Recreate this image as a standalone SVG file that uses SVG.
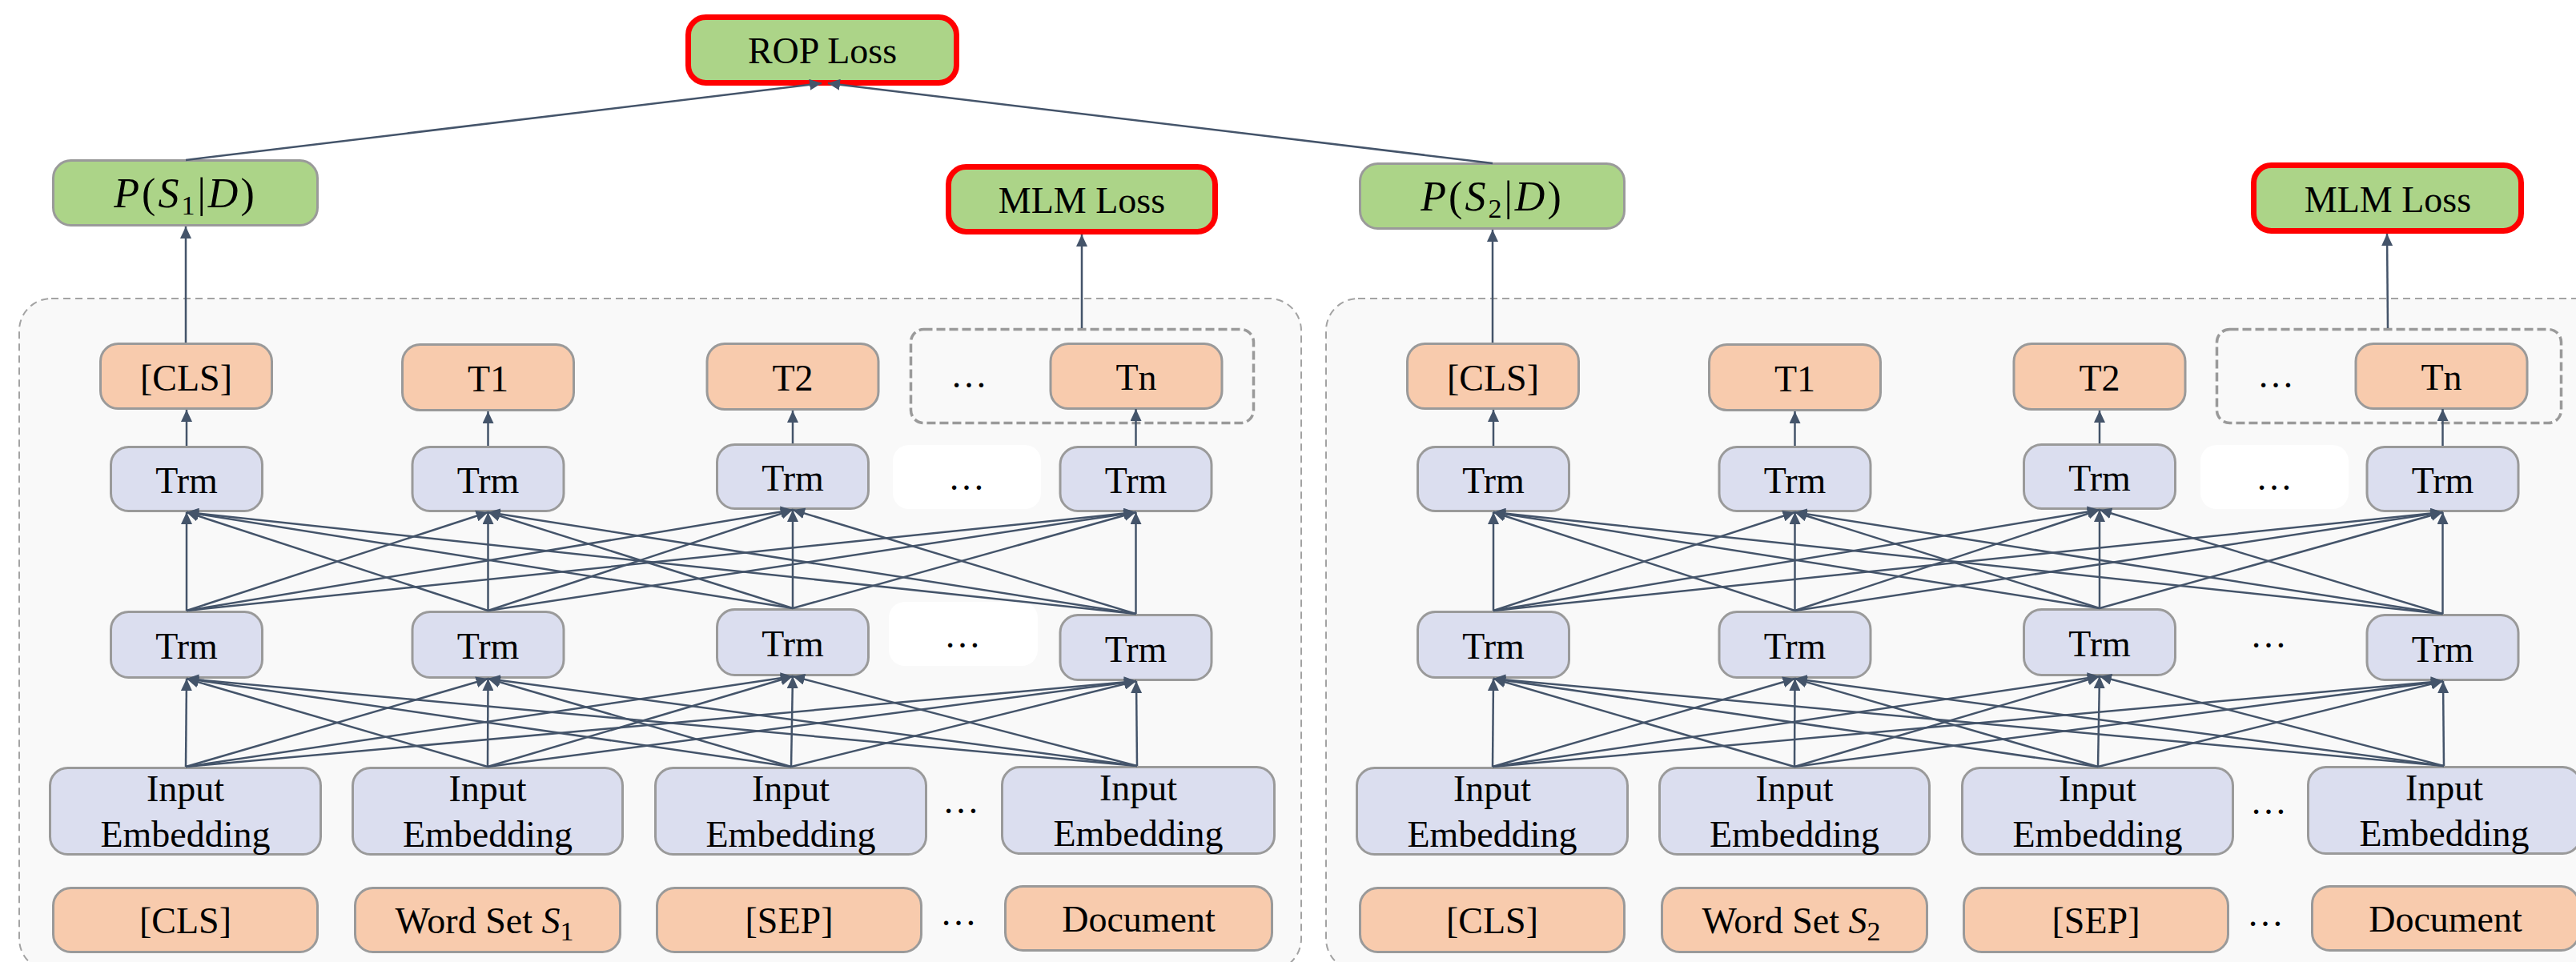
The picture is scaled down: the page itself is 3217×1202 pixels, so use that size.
<svg xmlns="http://www.w3.org/2000/svg" width="3217" height="1202" viewBox="0 0 3217 1202">
  <style>
    .frame { fill: #f9f9f9; stroke: #a3a3a3; stroke-width: 2; stroke-dasharray: 9 6; }
    .group { fill: none; stroke: #9a9a9a; stroke-width: 3.5; stroke-dasharray: 11 5; }
    .gap { fill: #ffffff; stroke: none; }
    .loss { fill: #acd488; stroke: #ff0000; stroke-width: 7; }
    .prob { fill: #acd488; stroke: #9a9a9a; stroke-width: 3; }
    .tok { fill: #f8cbad; stroke: #9a9a9a; stroke-width: 3; }
    .enc { fill: #dbdeef; stroke: #9a9a9a; stroke-width: 3; }
    .t { font-family: "Liberation Serif", "Times New Roman", serif; font-size: 46px; text-anchor: middle; fill: #000; }
    .m { font-size: 52px; letter-spacing: 3px; }
    .i { font-style: italic; }
    .sub { font-size: 34px; }
    .c line { stroke: #44546a; stroke-width: 2.5; marker-end: url(#ah); }
  </style>
  <defs>
    <marker id="ah" markerUnits="userSpaceOnUse" markerWidth="16" markerHeight="14" refX="15" refY="7" orient="auto">
      <path d="M0,0 L15,7 L0,14 Z" fill="#44546a"/>
    </marker>
  </defs>

  <!-- dashed frames of the two encoders -->
  <g id="frames">
    <rect id="frame-1" class="frame" x="24" y="373" width="1601" height="840" rx="40"/>
    <rect id="frame-2" class="frame" x="1656" y="373" width="1601" height="840" rx="40"/>
  </g>

  <!-- ROP loss on top -->
  <g id="rop-loss">
    <rect class="loss" x="859.5" y="21.5" width="335" height="82" rx="22"/>
    <text class="t" x="1027" y="79">ROP Loss</text>
  </g>

  <!-- encoder 1 -->
  <g id="encoder-1">
    <g id="p1">
      <rect class="prob" x="66.5" y="200.5" width="330" height="81" rx="22"/>
      <text class="t m" x="231.5" y="259"><tspan class="i">P</tspan>(<tspan class="i">S</tspan><tspan class="sub" dy="9">1</tspan><tspan dy="-9">|</tspan><tspan class="i">D</tspan>)</text>
    </g>
    <g id="mlm-1">
      <rect class="loss" x="1184.5" y="208.5" width="333" height="81" rx="22"/>
      <text class="t" x="1351" y="266">MLM Loss</text>
    </g>

    <g id="out-group-1"><rect class="group" x="1137.5" y="411.5" width="428" height="117" rx="16"/>
      <text class="t" x="1210" y="484">…</text></g>
    <g id="out-cls-1"><rect class="tok" x="125.5" y="429.5" width="214" height="81" rx="22"/><text class="t" x="232.5" y="488">[CLS]</text></g>
    <g id="out-t1-1"><rect class="tok" x="502.5" y="430.5" width="214" height="82" rx="22"/><text class="t" x="609.5" y="489">T1</text></g>
    <g id="out-t2-1"><rect class="tok" x="883" y="429.5" width="214" height="82" rx="22"/><text class="t" x="990" y="488">T2</text></g>
    <g id="out-tn-1"><rect class="tok" x="1312" y="429.5" width="214" height="81" rx="22"/><text class="t" x="1419" y="487">Tn</text></g>

    <g id="trm2-gap-1"><rect class="gap" x="1115" y="556" width="185" height="80" rx="20"/><text class="t" x="1207" y="612">…</text></g>
    <g id="trm2-a-1"><rect class="enc" x="138.5" y="558.5" width="189" height="80" rx="22"/><text class="t" x="233" y="616">Trm</text></g>
    <g id="trm2-b-1"><rect class="enc" x="515" y="558.5" width="189" height="80" rx="22"/><text class="t" x="609.5" y="616">Trm</text></g>
    <g id="trm2-c-1"><rect class="enc" x="895.5" y="555.5" width="189" height="80" rx="22"/><text class="t" x="990" y="613">Trm</text></g>
    <g id="trm2-d-1"><rect class="enc" x="1324" y="558.5" width="189" height="80" rx="22"/><text class="t" x="1418.5" y="616">Trm</text></g>

    <g id="trm1-gap-1"><rect class="gap" x="1110" y="752" width="186" height="80" rx="20"/><text class="t" x="1202" y="809">…</text></g>
    <g id="trm1-a-1"><rect class="enc" x="138.5" y="764.5" width="189" height="82" rx="22"/><text class="t" x="233" y="823">Trm</text></g>
    <g id="trm1-b-1"><rect class="enc" x="515" y="764.5" width="189" height="82" rx="22"/><text class="t" x="609.5" y="823">Trm</text></g>
    <g id="trm1-c-1"><rect class="enc" x="895.5" y="761.5" width="189" height="82" rx="22"/><text class="t" x="990" y="820">Trm</text></g>
    <g id="trm1-d-1"><rect class="enc" x="1324" y="768.5" width="189" height="81" rx="22"/><text class="t" x="1418.5" y="827">Trm</text></g>

    <g id="emb-a-1"><rect class="enc" x="62.5" y="959.5" width="338" height="108" rx="22"/><text class="t" x="231.5" y="1001">Input</text><text class="t" x="231.5" y="1058">Embedding</text></g>
    <g id="emb-b-1"><rect class="enc" x="440.5" y="959.5" width="337" height="108" rx="22"/><text class="t" x="609" y="1001">Input</text><text class="t" x="609" y="1058">Embedding</text></g>
    <g id="emb-c-1"><rect class="enc" x="818.5" y="959.5" width="338" height="108" rx="22"/><text class="t" x="987.5" y="1001">Input</text><text class="t" x="987.5" y="1058">Embedding</text></g>
    <g id="emb-dots-1"><text class="t" x="1200" y="1016">…</text></g>
    <g id="emb-d-1"><rect class="enc" x="1251.5" y="958.5" width="340" height="108" rx="22"/><text class="t" x="1421.5" y="1000">Input</text><text class="t" x="1421.5" y="1057">Embedding</text></g>

    <g id="in-cls-1"><rect class="tok" x="66.5" y="1109.5" width="330" height="80" rx="22"/><text class="t" x="231.5" y="1166">[CLS]</text></g>
    <g id="in-words-1"><rect class="tok" x="443.5" y="1109.5" width="331" height="80" rx="22"/><text class="t" x="605" y="1166">Word Set <tspan class="i">S</tspan><tspan class="sub" dy="9">1</tspan></text></g>
    <g id="in-sep-1"><rect class="tok" x="820.5" y="1109.5" width="330" height="80" rx="22"/><text class="t" x="985.5" y="1166">[SEP]</text></g>
    <g id="in-dots-1"><text class="t" x="1197" y="1156">…</text></g>
    <g id="in-doc-1"><rect class="tok" x="1255.5" y="1107.5" width="333" height="80" rx="22"/><text class="t" x="1422" y="1164">Document</text></g>
  </g>

  <!-- encoder 2, same layout shifted right -->
  <g id="encoder-2" transform="translate(1632,0)">
    <g id="p2">
      <rect class="prob" x="66.5" y="204.5" width="330" height="81" rx="22"/>
      <text class="t m" x="231.5" y="263"><tspan class="i">P</tspan>(<tspan class="i">S</tspan><tspan class="sub" dy="9">2</tspan><tspan dy="-9">|</tspan><tspan class="i">D</tspan>)</text>
    </g>
    <g id="mlm-2">
      <rect class="loss" x="1182.5" y="206.5" width="334" height="82" rx="22"/>
      <text class="t" x="1350" y="265">MLM Loss</text>
    </g>

    <g id="out-group-2"><rect class="group" x="1136.5" y="411.5" width="430" height="117" rx="16"/>
      <text class="t" x="1210" y="484">…</text></g>
    <g id="out-cls-2"><rect class="tok" x="125.5" y="429.5" width="214" height="81" rx="22"/><text class="t" x="232.5" y="488">[CLS]</text></g>
    <g id="out-t1-2"><rect class="tok" x="502.5" y="430.5" width="214" height="82" rx="22"/><text class="t" x="609.5" y="489">T1</text></g>
    <g id="out-t2-2"><rect class="tok" x="883" y="429.5" width="214" height="82" rx="22"/><text class="t" x="990" y="488">T2</text></g>
    <g id="out-tn-2"><rect class="tok" x="1310" y="429.5" width="214" height="81" rx="22"/><text class="t" x="1417" y="487">Tn</text></g>

    <g id="trm2-gap-2"><rect class="gap" x="1116" y="556" width="185" height="80" rx="20"/><text class="t" x="1208" y="612">…</text></g>
    <g id="trm2-a-2"><rect class="enc" x="138.5" y="558.5" width="189" height="80" rx="22"/><text class="t" x="233" y="616">Trm</text></g>
    <g id="trm2-b-2"><rect class="enc" x="515" y="558.5" width="189" height="80" rx="22"/><text class="t" x="609.5" y="616">Trm</text></g>
    <g id="trm2-c-2"><rect class="enc" x="895.5" y="555.5" width="189" height="80" rx="22"/><text class="t" x="990" y="613">Trm</text></g>
    <g id="trm2-d-2"><rect class="enc" x="1324" y="558.5" width="189" height="80" rx="22"/><text class="t" x="1418.5" y="616">Trm</text></g>

    <g id="trm1-dots-2"><text class="t" x="1201" y="809">…</text></g>
    <g id="trm1-a-2"><rect class="enc" x="138.5" y="764.5" width="189" height="82" rx="22"/><text class="t" x="233" y="823">Trm</text></g>
    <g id="trm1-b-2"><rect class="enc" x="515" y="764.5" width="189" height="82" rx="22"/><text class="t" x="609.5" y="823">Trm</text></g>
    <g id="trm1-c-2"><rect class="enc" x="895.5" y="761.5" width="189" height="82" rx="22"/><text class="t" x="990" y="820">Trm</text></g>
    <g id="trm1-d-2"><rect class="enc" x="1324" y="768.5" width="189" height="81" rx="22"/><text class="t" x="1418.5" y="827">Trm</text></g>

    <g id="emb-a-2"><rect class="enc" x="62.5" y="959.5" width="338" height="108" rx="22"/><text class="t" x="231.5" y="1001">Input</text><text class="t" x="231.5" y="1058">Embedding</text></g>
    <g id="emb-b-2"><rect class="enc" x="440.5" y="959.5" width="337" height="108" rx="22"/><text class="t" x="609" y="1001">Input</text><text class="t" x="609" y="1058">Embedding</text></g>
    <g id="emb-c-2"><rect class="enc" x="818.5" y="959.5" width="338" height="108" rx="22"/><text class="t" x="987.5" y="1001">Input</text><text class="t" x="987.5" y="1058">Embedding</text></g>
    <g id="emb-dots-2"><text class="t" x="1201" y="1017">…</text></g>
    <g id="emb-d-2"><rect class="enc" x="1250.5" y="958.5" width="340" height="108" rx="22"/><text class="t" x="1420.5" y="1000">Input</text><text class="t" x="1420.5" y="1057">Embedding</text></g>

    <g id="in-cls-2"><rect class="tok" x="66.5" y="1109.5" width="330" height="80" rx="22"/><text class="t" x="231.5" y="1166">[CLS]</text></g>
    <g id="in-words-2"><rect class="tok" x="443.5" y="1109.5" width="331" height="80" rx="22"/><text class="t" x="605" y="1166">Word Set <tspan class="i">S</tspan><tspan class="sub" dy="9">2</tspan></text></g>
    <g id="in-sep-2"><rect class="tok" x="820.5" y="1109.5" width="330" height="80" rx="22"/><text class="t" x="985.5" y="1166">[SEP]</text></g>
    <g id="in-dots-2"><text class="t" x="1197" y="1157">…</text></g>
    <g id="in-doc-2"><rect class="tok" x="1255.5" y="1107.5" width="333" height="80" rx="22"/><text class="t" x="1422" y="1164">Document</text></g>
  </g>

  <!-- connectors -->
  <g id="connectors" class="c">
    <line x1="232" y1="200" x2="1026" y2="104"/>
    <line x1="1864" y1="204" x2="1034" y2="104"/>

    <g id="links-1">
      <line x1="232" y1="428" x2="232" y2="283"/>
      <line x1="1351" y1="410" x2="1351" y2="293"/>
      <line x1="233" y1="557" x2="233" y2="512"/>
      <line x1="609.5" y1="557" x2="609.5" y2="514"/>
      <line x1="990" y1="554" x2="990" y2="513"/>
      <line x1="1418.5" y1="557" x2="1418.5" y2="511"/>
      <!-- upper mesh -->
      <line x1="233" y1="763" x2="233" y2="640"/>
      <line x1="233" y1="763" x2="609.5" y2="640"/>
      <line x1="233" y1="763" x2="990" y2="637"/>
      <line x1="233" y1="763" x2="1418.5" y2="640"/>
      <line x1="609.5" y1="763" x2="233" y2="640"/>
      <line x1="609.5" y1="763" x2="609.5" y2="640"/>
      <line x1="609.5" y1="763" x2="990" y2="637"/>
      <line x1="609.5" y1="763" x2="1418.5" y2="640"/>
      <line x1="990" y1="760" x2="233" y2="640"/>
      <line x1="990" y1="760" x2="609.5" y2="640"/>
      <line x1="990" y1="760" x2="990" y2="637"/>
      <line x1="990" y1="760" x2="1418.5" y2="640"/>
      <line x1="1418.5" y1="767" x2="233" y2="640"/>
      <line x1="1418.5" y1="767" x2="609.5" y2="640"/>
      <line x1="1418.5" y1="767" x2="990" y2="637"/>
      <line x1="1418.5" y1="767" x2="1418.5" y2="640"/>
      <!-- lower mesh -->
      <line x1="232" y1="958" x2="233" y2="848"/>
      <line x1="232" y1="958" x2="609.5" y2="848"/>
      <line x1="232" y1="958" x2="990" y2="845"/>
      <line x1="232" y1="958" x2="1419" y2="851"/>
      <line x1="609" y1="958" x2="233" y2="848"/>
      <line x1="609" y1="958" x2="609.5" y2="848"/>
      <line x1="609" y1="958" x2="990" y2="845"/>
      <line x1="609" y1="958" x2="1419" y2="851"/>
      <line x1="988" y1="958" x2="233" y2="848"/>
      <line x1="988" y1="958" x2="609.5" y2="848"/>
      <line x1="988" y1="958" x2="990" y2="845"/>
      <line x1="988" y1="958" x2="1419" y2="851"/>
      <line x1="1420" y1="957" x2="233" y2="848"/>
      <line x1="1420" y1="957" x2="609.5" y2="848"/>
      <line x1="1420" y1="957" x2="990" y2="845"/>
      <line x1="1420" y1="957" x2="1419" y2="851"/>
    </g>

    <g id="links-2" transform="translate(1632,0)">
      <line x1="232" y1="428" x2="232" y2="287"/>
      <line x1="1350" y1="410" x2="1349" y2="292"/>
      <line x1="233" y1="557" x2="233" y2="512"/>
      <line x1="609.5" y1="557" x2="609.5" y2="514"/>
      <line x1="990" y1="554" x2="990" y2="513"/>
      <line x1="1418.5" y1="557" x2="1418.5" y2="511"/>
      <!-- upper mesh -->
      <line x1="233" y1="763" x2="233" y2="640"/>
      <line x1="233" y1="763" x2="609.5" y2="640"/>
      <line x1="233" y1="763" x2="990" y2="637"/>
      <line x1="233" y1="763" x2="1418.5" y2="640"/>
      <line x1="609.5" y1="763" x2="233" y2="640"/>
      <line x1="609.5" y1="763" x2="609.5" y2="640"/>
      <line x1="609.5" y1="763" x2="990" y2="637"/>
      <line x1="609.5" y1="763" x2="1418.5" y2="640"/>
      <line x1="990" y1="760" x2="233" y2="640"/>
      <line x1="990" y1="760" x2="609.5" y2="640"/>
      <line x1="990" y1="760" x2="990" y2="637"/>
      <line x1="990" y1="760" x2="1418.5" y2="640"/>
      <line x1="1418.5" y1="767" x2="233" y2="640"/>
      <line x1="1418.5" y1="767" x2="609.5" y2="640"/>
      <line x1="1418.5" y1="767" x2="990" y2="637"/>
      <line x1="1418.5" y1="767" x2="1418.5" y2="640"/>
      <!-- lower mesh -->
      <line x1="232" y1="958" x2="233" y2="848"/>
      <line x1="232" y1="958" x2="609.5" y2="848"/>
      <line x1="232" y1="958" x2="990" y2="845"/>
      <line x1="232" y1="958" x2="1419" y2="851"/>
      <line x1="609" y1="958" x2="233" y2="848"/>
      <line x1="609" y1="958" x2="609.5" y2="848"/>
      <line x1="609" y1="958" x2="990" y2="845"/>
      <line x1="609" y1="958" x2="1419" y2="851"/>
      <line x1="988" y1="958" x2="233" y2="848"/>
      <line x1="988" y1="958" x2="609.5" y2="848"/>
      <line x1="988" y1="958" x2="990" y2="845"/>
      <line x1="988" y1="958" x2="1419" y2="851"/>
      <line x1="1420" y1="957" x2="233" y2="848"/>
      <line x1="1420" y1="957" x2="609.5" y2="848"/>
      <line x1="1420" y1="957" x2="990" y2="845"/>
      <line x1="1420" y1="957" x2="1419" y2="851"/>
    </g>
  </g>
</svg>
